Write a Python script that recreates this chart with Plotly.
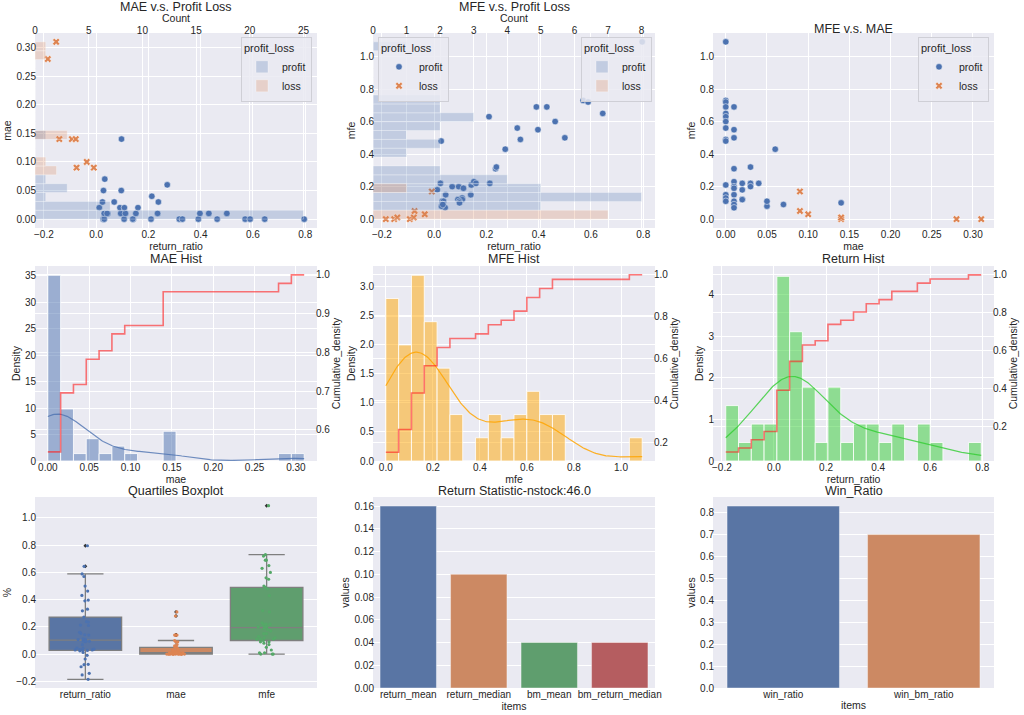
import numpy as np
import plotly.graph_objects as go

# ---------------- data ----------------
profit_return = [0.796, 0.570, 0.589, 0.391, 0.645, 0.210, 0.463, 0.318, 0.330, 0.027, 0.142, 0.140, 0.107, 0.031,
                 0.431, 0.397, 0.500, 0.235, 0.152, 0.094, 0.112, 0.044, 0.036, 0.031, 0.042,
                 0.012, 0.091, 0.108, 0.160,
                 0.024, 0.069, 0.238, 0.213, 0.028, 0.096, 0.272, 0.033, 0.097]
profit_mae = [0.00, 0.00, 0.00, 0.00, 0.00, 0.00, 0.00, 0.00, 0.00, 0.00, 0.00, 0.00, 0.00, 0.00,
              0.01, 0.01, 0.01, 0.01, 0.01, 0.01, 0.01, 0.01, 0.01, 0.01, 0.01,
              0.02, 0.02, 0.02, 0.02,
              0.03, 0.03, 0.03, 0.04, 0.05, 0.05, 0.06, 0.07, 0.14]
profit_mfe = [1.09, 0.73, 0.72, 0.69, 0.65, 0.63, 0.60, 0.56, 0.49, 0.48, 0.21, 0.15, 0.13, 0.11,
              0.69, 0.55, 0.50, 0.31, 0.23, 0.20, 0.19, 0.15, 0.11, 0.09, 0.07,
              0.18, 0.12, 0.12, 0.22,
              0.22, 0.20, 0.32, 0.22, 0.08, 0.11, 0.43, 0.09, 0.10]

loss_return = [-0.185, -0.153, -0.141, -0.093, -0.078, -0.075, -0.036, -0.009]
loss_mae = [0.28, 0.31, 0.14, 0.14, 0.14, 0.09, 0.10, 0.09]
loss_mfe = [0.00, 0.00, 0.01, 0.00, 0.01, 0.05, 0.03, 0.17]

stat_items = ['return_mean', 'return_median', 'bm_mean', 'bm_return_median']
stat_values = [0.16, 0.10, 0.04, 0.04]
win_items = ['win_ratio', 'win_bm_ratio']
win_values = [0.83, 0.70]
n_stock = 46.0

return_ratio = np.array(profit_return + loss_return)
mae = np.array(profit_mae + loss_mae)
mfe = np.array(profit_mfe + loss_mfe)

# ---------------- style ----------------
W, H = 1024, 715
COLS = [(35, 317), (373, 655), (713, 994)]
ROWS = [(33, 228), (266, 461), (497, 688)]
TXT = '#262626'
FONT = 'Liberation Sans, Arial, sans-serif'
BLUE, ORANGE, GREEN, RED = '#4C72B0', '#DD8452', '#55A868', '#C44E52'
DESAT = ['#5975A4', '#CC8963', '#5F9E6E', '#B55D60']
BG = '#EAEAF2'


def xdom(c):
    return [COLS[c][0] / W, COLS[c][1] / W]


def ydom(r):
    return [1 - ROWS[r][1] / H, 1 - ROWS[r][0] / H]


def axis(title=None, grid=True, xa=False, **kw):
    d = dict(showgrid=grid, gridcolor='white', gridwidth=1, zeroline=False, showline=False,
             ticks='', tickfont=dict(size=10, color=TXT), automargin=False,
             ticklabelstandoff=(-1 if xa else -2))
    if title is not None:
        d['title'] = dict(text=title, font=dict(size=10.5, color=TXT), standoff=2)
    d.update(kw)
    return d


def hist_counts(values, edges):
    c, _ = np.histogram(values, bins=edges)
    return c


def kde(values, npts=200):
    v = np.asarray(values, dtype=float)
    n = len(v)
    bw = v.std(ddof=1) * n ** (-0.2)
    grid = np.linspace(v.min(), v.max(), npts)
    dens = np.exp(-0.5 * ((grid[:, None] - v[None, :]) / bw) ** 2).sum(1) / (n * bw * np.sqrt(2 * np.pi))
    return grid, dens


fig = go.Figure()

# ---------- Row 1: scatter + horizontal hist ----------
def scatter_pair(xp, yp, xl, yl, xa, ya, legend, show):
    fig.add_trace(go.Scatter(x=xp, y=yp, mode='markers', name='profit', xaxis=xa, yaxis=ya,
                             marker=dict(color=BLUE, size=6.5, symbol='circle', line=dict(color='white', width=0.5)),
                             legend=legend, showlegend=show))
    fig.add_trace(go.Scatter(x=xl, y=yl, mode='markers', name='loss', xaxis=xa, yaxis=ya,
                             marker=dict(color=ORANGE, size=6.5, symbol='x', line=dict(color='white', width=0.5)),
                             legend=legend, showlegend=show))


def hbar_pair(allv, pv, lv, xa, ya, legend):
    edges = np.histogram_bin_edges(allv, bins=20)
    centers = (edges[:-1] + edges[1:]) / 2
    w = edges[1] - edges[0]
    for vals, name, col in [(pv, 'profit', 'rgba(76,114,176,0.25)'), (lv, 'loss', 'rgba(221,132,82,0.25)')]:
        fig.add_trace(go.Bar(y=centers, x=hist_counts(vals, edges), orientation='h', width=w, name=name,
                             marker=dict(color=col, line=dict(color='rgba(255,255,255,0.5)', width=0.6)),
                             xaxis=xa, yaxis=ya, legend=legend, showlegend=legend is not None))


scatter_pair(profit_return, profit_mae, loss_return, loss_mae, 'x', 'y', 'legend', False)
hbar_pair(mae, profit_mae, loss_mae, 'x10', 'y', 'legend')

scatter_pair(profit_return, profit_mfe, loss_return, loss_mfe, 'x2', 'y2', 'legend2', True)
hbar_pair(mfe, profit_mfe, loss_mfe, 'x11', 'y2', 'legend3')

scatter_pair(profit_mae, profit_mfe, loss_mae, loss_mfe, 'x3', 'y3', 'legend4', True)

# ---------- Row 2: hist + kde + cumulative ----------
def hist_panel(values, xa, ya, ya2, fill, line):
    edges = np.histogram_bin_edges(values, bins=20)
    centers = (edges[:-1] + edges[1:]) / 2
    w = edges[1] - edges[0]
    cnt = hist_counts(values, edges)
    dens = cnt / (len(values) * w)
    fig.add_trace(go.Bar(x=centers, y=dens, width=w, xaxis=xa, yaxis=ya, showlegend=False,
                         marker=dict(color=fill, line=dict(color='rgba(255,255,255,0.8)', width=1))))
    gx, gy = kde(values)
    fig.add_trace(go.Scatter(x=gx, y=gy, mode='lines', xaxis=xa, yaxis=ya, showlegend=False,
                             line=dict(color=line, width=1.2)))
    cum = np.cumsum(cnt) / len(values)
    fig.add_trace(go.Scatter(x=edges, y=np.append(cum, cum[-1]), mode='lines', xaxis=xa, yaxis=ya2,
                             showlegend=False, line=dict(color='rgba(255,30,30,0.6)', width=1.6, shape='hv')))


hist_panel(mae, 'x4', 'y4', 'y10', 'rgba(76,114,176,0.5)', 'rgba(76,114,176,0.8)')
hist_panel(mfe, 'x5', 'y5', 'y11', 'rgba(255,165,0,0.5)', 'rgba(255,165,0,0.85)')
hist_panel(return_ratio, 'x6', 'y6', 'y12', 'rgba(50,205,50,0.5)', 'rgba(50,205,50,0.8)')

# ---------- Row 3: boxplot + bars ----------
box_vars = [('return_ratio', return_ratio), ('mae', mae), ('mfe', mfe)]
strip_cols = [BLUE, ORANGE, GREEN]
for i, (nm, vals) in enumerate(box_vars):
    fig.add_trace(go.Box(name=nm, y=vals, xaxis='x7', yaxis='y7', boxpoints='outliers', width=0.8,
                         whiskerwidth=0.5, fillcolor=DESAT[i], line=dict(color='#7f7f7f', width=1.3),
                         marker=dict(color='#333333', size=3, symbol='diamond'), showlegend=False))
for i, (nm, vals) in enumerate(box_vars):
    fig.add_trace(go.Box(name=nm, y=vals, xaxis='x7', yaxis='y7', boxpoints='all', jitter=0.3, pointpos=0,
                         width=0.8, fillcolor='rgba(0,0,0,0)', line=dict(color='rgba(0,0,0,0)', width=0),
                         marker=dict(color=strip_cols[i], size=3.2), showlegend=False))

fig.add_trace(go.Bar(x=stat_items, y=stat_values, width=0.8, xaxis='x8', yaxis='y8', showlegend=False,
                     marker=dict(color=DESAT[:4], line=dict(color='rgba(255,255,255,0.4)', width=1))))
fig.add_trace(go.Bar(x=win_items, y=win_values, width=0.8, xaxis='x9', yaxis='y9', showlegend=False,
                     marker=dict(color=DESAT[:2], line=dict(color='rgba(255,255,255,0.4)', width=1))))

# ---------------- layout ----------------
lay = dict(width=W, height=H, margin=dict(l=0, r=0, t=0, b=0), paper_bgcolor='white', plot_bgcolor=BG,
           font=dict(family=FONT, color=TXT), barmode='overlay', boxmode='overlay', showlegend=True)

# row 1
lay['xaxis'] = axis('return_ratio', xa=True, domain=xdom(0), anchor='y', range=[-0.234, 0.845], dtick=0.2, tickformat='.1f')
lay['yaxis'] = axis('mae', domain=ydom(0), anchor='x', range=[-0.0155, 0.3255], dtick=0.05, tickformat='.2f')
lay['xaxis10'] = axis(None, overlaying='x', side='top', anchor='y', range=[0, 26.25], dtick=5, ticklabelstandoff=-4)
lay['xaxis2'] = axis('return_ratio', xa=True, domain=xdom(1), anchor='y2', range=[-0.234, 0.845], dtick=0.2, tickformat='.1f')
lay['yaxis2'] = axis('mfe', domain=ydom(0), anchor='x2', range=[-0.0545, 1.1445], dtick=0.2, tickformat='.1f')
lay['xaxis11'] = axis(None, overlaying='x2', side='top', anchor='y2', range=[0, 8.4], dtick=1, ticklabelstandoff=-4)
lay['xaxis3'] = axis('mae', xa=True, domain=xdom(2), anchor='y3', range=[-0.0155, 0.3255], dtick=0.05, tickformat='.2f')
lay['yaxis3'] = axis('mfe', domain=ydom(0), anchor='x3', range=[-0.0545, 1.1445], dtick=0.2, tickformat='.1f')

# row 2
lay['xaxis4'] = axis('mae', xa=True, domain=xdom(0), anchor='y4', range=[-0.0155, 0.3255], dtick=0.05, tickformat='.2f')
lay['yaxis4'] = axis('Density', domain=ydom(1), anchor='x4', range=[0, 36.8], dtick=5)
lay['yaxis10'] = axis('Cumulative_density', overlaying='y4', side='right', anchor='x4', range=[0.52, 1.023],
                      dtick=0.1, tickformat='.1f')
lay['xaxis5'] = axis('mfe', xa=True, domain=xdom(1), anchor='y5', range=[-0.0545, 1.1445], dtick=0.2, tickformat='.1f')
lay['yaxis5'] = axis('Density', domain=ydom(1), anchor='x5', range=[0, 3.35], dtick=0.5, tickformat='.1f')
lay['yaxis11'] = axis('Cumulative_density', overlaying='y5', side='right', anchor='x5', range=[0.110, 1.042],
                      dtick=0.2, tickformat='.1f')
lay['xaxis6'] = axis('return_ratio', xa=True, domain=xdom(2), anchor='y6', range=[-0.234, 0.845], dtick=0.2, tickformat='.1f')
lay['yaxis6'] = axis('Density', domain=ydom(1), anchor='x6', range=[0, 4.68], dtick=1)
lay['yaxis12'] = axis('Cumulative_density', overlaying='y6', side='right', anchor='x6', range=[0.018, 1.047],
                      dtick=0.2, tickformat='.1f')

# row 3
lay['xaxis7'] = axis(None, grid=False, xa=True, domain=xdom(0), anchor='y7', type='category')
lay['yaxis7'] = axis('%', domain=ydom(2), anchor='x7', range=[-0.249, 1.154], dtick=0.2, tickformat='.1f')
lay['xaxis8'] = axis('items', grid=False, xa=True, domain=xdom(1), anchor='y8', type='category')
lay['yaxis8'] = axis('values', domain=ydom(2), anchor='x8', range=[0, 0.168], dtick=0.02, tickformat='.2f')
lay['xaxis9'] = axis('items', grid=False, xa=True, domain=xdom(2), anchor='y9', type='category')
lay['yaxis9'] = axis('values', domain=ydom(2), anchor='x9', range=[0, 0.8715], dtick=0.1, tickformat='.1f')

leg_common = dict(bgcolor='rgba(234,234,242,0.85)', bordercolor='#cfcfd6', borderwidth=1,
                  font=dict(size=10.5, color=TXT), itemwidth=30, tracegroupgap=0, yanchor='top')
top_leg = 1 - 37 / H
lay['legend'] = dict(leg_common, x=312 / W, xanchor='right', y=top_leg,
                     title=dict(text='profit_loss', font=dict(size=11, color=TXT)))
lay['legend2'] = dict(leg_common, x=378 / W, xanchor='left', y=top_leg,
                      title=dict(text='profit_loss', font=dict(size=11, color=TXT)))
lay['legend3'] = dict(leg_common, x=652 / W, xanchor='right', y=top_leg,
                      title=dict(text='profit_loss', font=dict(size=11, color=TXT)))
lay['legend4'] = dict(leg_common, x=989 / W, xanchor='right', y=top_leg,
                      title=dict(text='profit_loss', font=dict(size=11, color=TXT)))

titles = [('MAE v.s. Profit Loss', 0, 7), ('MFE v.s. Profit Loss', 1, 7), ('MFE v.s. MAE', 2, 29),
          ('MAE Hist', 0, 259), ('MFE Hist', 1, 259), ('Return Hist', 2, 259),
          ('Quartiles Boxplot', 0, 491), ('Return Statistic-nstock:%s' % n_stock, 1, 491), ('Win_Ratio', 2, 491)]
ann = [dict(text=t, x=sum(xdom(c)) / 2, y=1 - py / H, xref='paper', yref='paper',
            xanchor='center', yanchor='middle', showarrow=False,
            font=dict(size=12.5, color=TXT, family=FONT)) for t, c, py in titles]
# "Count" titles of the top (twin) axes
for c in (0, 1):
    ann.append(dict(text='Count', x=sum(xdom(c)) / 2, y=1 - 17.5 / H, xref='paper', yref='paper',
                    xanchor='center', yanchor='middle', showarrow=False,
                    font=dict(size=10.5, color=TXT, family=FONT)))
lay['annotations'] = ann

fig.update_layout(**lay)
fig.write_html('out.html', config={'displayModeBar': False},
               post_script="document.body.style.margin='0';document.body.style.padding='0';")
